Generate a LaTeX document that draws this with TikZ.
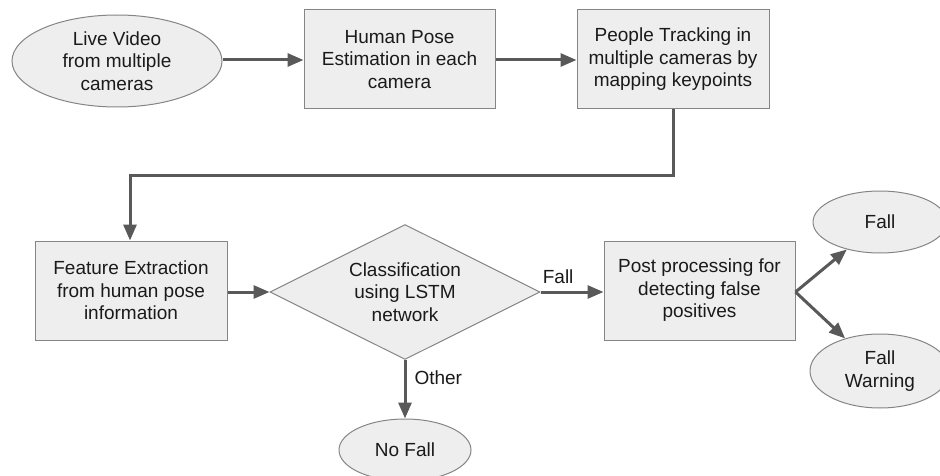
\documentclass[tikz,border=0pt]{standalone}
\usepackage{fontspec}
\setmainfont{Liberation Sans}
\usetikzlibrary{shapes.geometric,arrows.meta}
\definecolor{boxfill}{HTML}{EEEEEE}
\definecolor{boxline}{HTML}{858585}
\definecolor{arrowcol}{HTML}{595959}
\definecolor{txt}{HTML}{1A1A1A}
\begin{document}
\begin{tikzpicture}[x=1pt,y=-1pt,
  every node/.style={font=\fontsize{19}{22.5}\selectfont, text=txt, align=center, inner sep=0pt},
  stepbox/.style={draw=boxline, fill=boxfill, line width=1pt, minimum width=191pt, minimum height=99pt},
  termin/.style={draw=boxline, fill=boxfill, line width=1pt, ellipse},
  decis/.style={draw=boxline, fill=boxfill, line width=1pt, diamond, shape aspect=2, minimum width=270pt, minimum height=135pt},
  conn/.style={draw=arrowcol, line width=3pt, -{Triangle[length=16pt,width=13pt]}},
  lbl/.style={font=\fontsize{19}{22.5}\selectfont}
]
\useasboundingbox (0,0) rectangle (940,476);
\begin{scope}
\clip (0,0) rectangle (940,476);
\node[termin, minimum width=210pt, minimum height=92pt] (live) at (117,61) {Live Video\\from multiple\\cameras};
\node[stepbox] (pose) at (399.5,59.5) {Human Pose\\Estimation in each\\camera};
\node[stepbox, minimum width=192pt] (track) at (673,59.5) {People Tracking in\\multiple cameras by\\mapping keypoints};
\node[stepbox, minimum width=192pt] (feat) at (131,290.5) {Feature Extraction\\from human pose\\information};
\node[decis] (cls) at (405,292) {Classification\\using LSTM\\network};
\node[stepbox] (post) at (699.5,290.5) {Post processing for\\detecting false\\positives};
\node[termin, minimum width=134pt, minimum height=62pt] (fall) at (880,222) {Fall};
\node[termin, minimum width=140pt, minimum height=74pt] (warn) at (880,371) {Fall\\Warning};
\node[termin, minimum width=132pt, minimum height=62pt] (nofall) at (405,450) {No Fall};
\coordinate (bendA) at (673,176);
\coordinate (bendB) at (130,176);
\draw[conn] (live.east |- 0,60) -- (pose.west |- 0,60);
\draw[conn] (pose.east |- 0,60) -- (track.west |- 0,60);
\draw[conn] (track.south) -- (bendA) -- (bendB) -- (feat.north -| bendB);
\draw[conn] (feat.east |- cls.west) -- (cls.west);
\draw[conn] (cls.east) -- node[lbl, above=7pt, pos=0.28] (lfall) {Fall} (post.west |- cls.east);
\draw[conn] (cls.south) -- node[lbl, right=8pt, pos=0.3] (lother) {Other} (nofall.north);
\draw[conn] (post.east |- cls.east) -- (fall);
\draw[conn] (post.east |- cls.east) -- (warn);
\end{scope}
\end{tikzpicture}
\end{document}
